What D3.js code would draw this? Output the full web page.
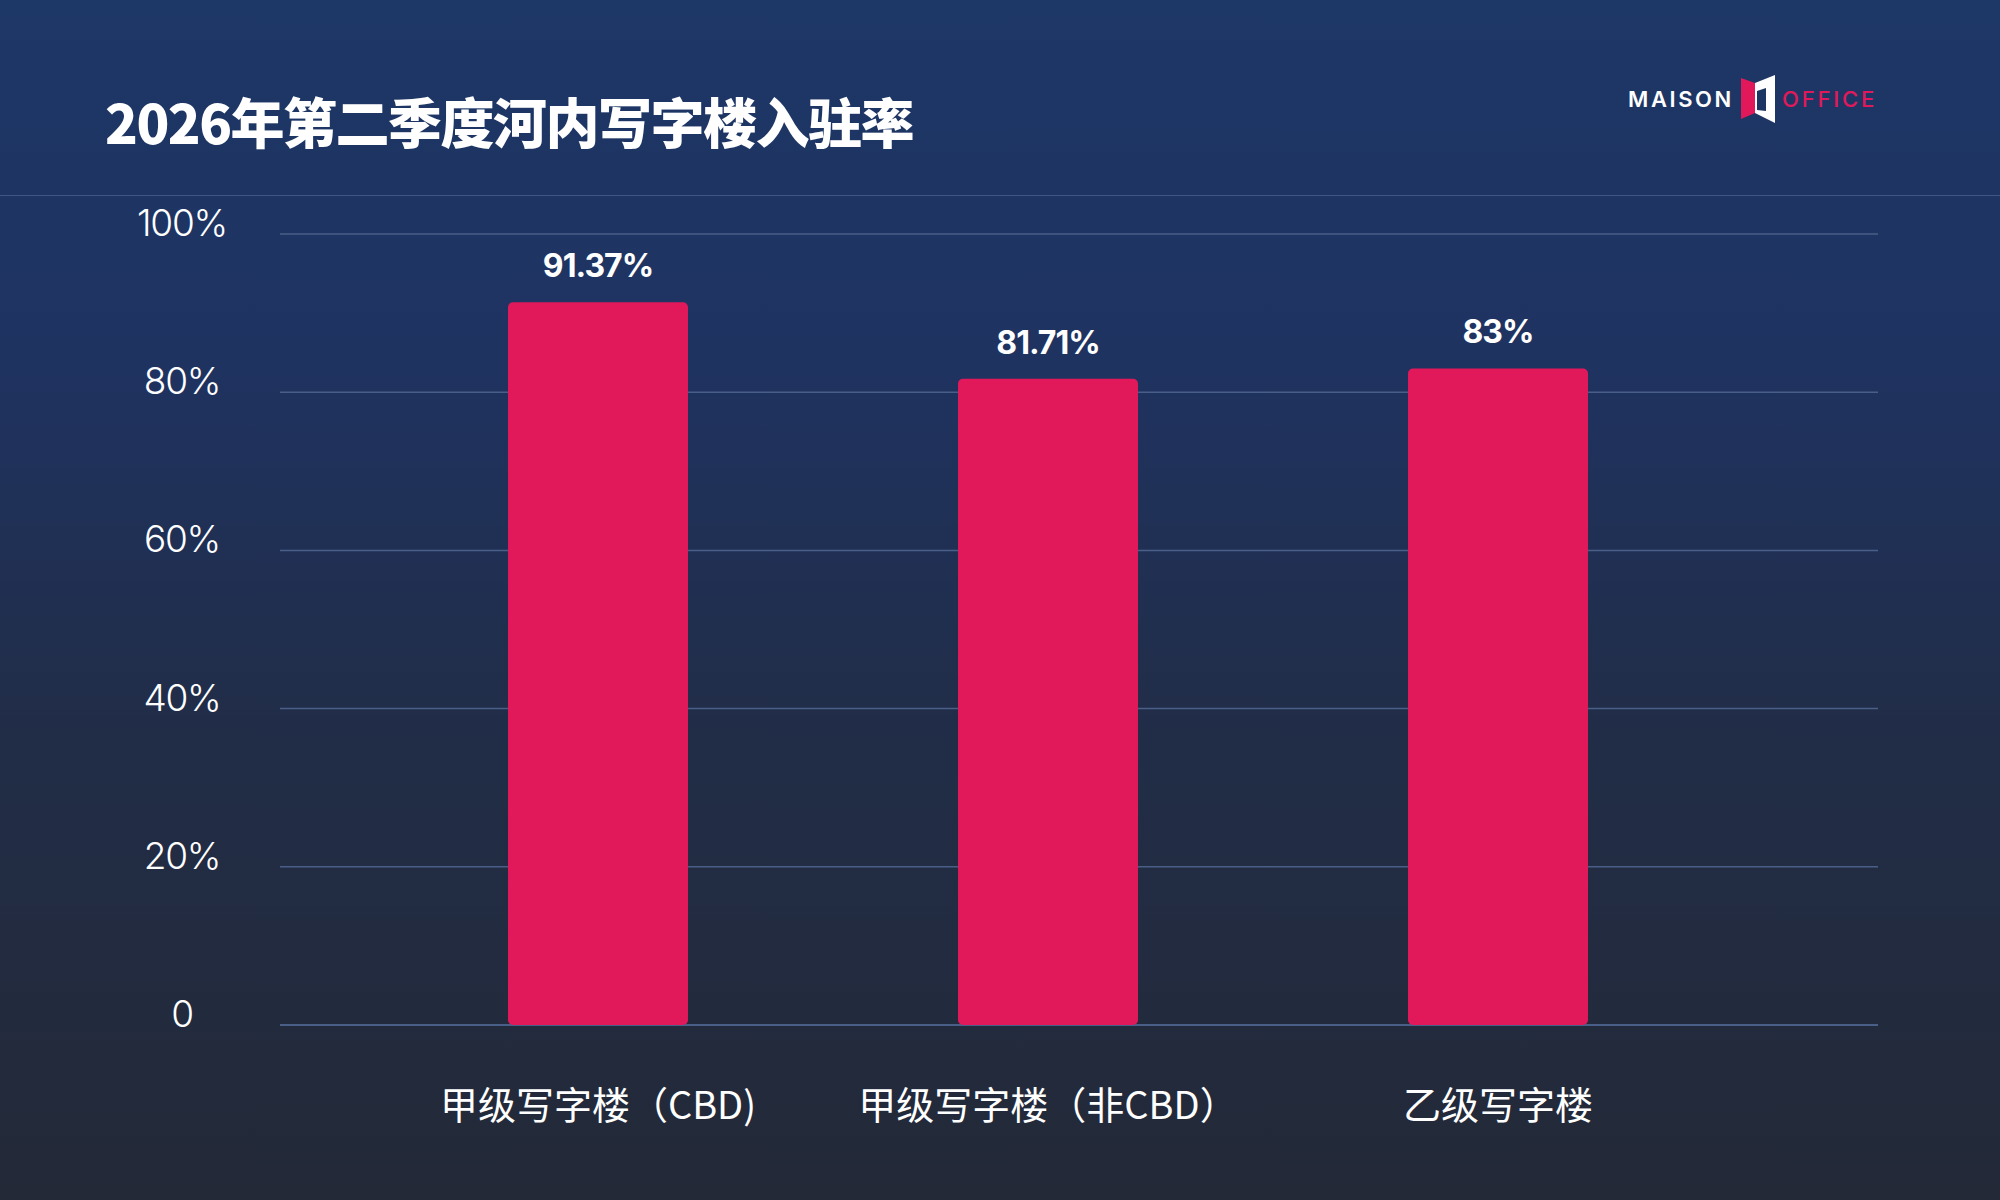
<!DOCTYPE html>
<html>
<head>
<meta charset="utf-8">
<script src="https://cdn.jsdelivr.net/npm/d3@7"></script>
<style>
    html, body { margin: 0; padding: 0; background: #222a38; }
    svg { display: block; }
</style>
</head>
<body>
<div id="chart"></div>
<script>
// Data.
const categories = ['甲级写字楼（CBD)', '甲级写字楼（非CBD）', '乙级写字楼']
const occupancy = [91.37, 81.71, 83]
const valueLabels = ['91.37%', '81.71%', '83%']
const yTicks = [0, 20, 40, 60, 80, 100]
const yTickLabels = ['0', '20%', '40%', '60%', '80%', '100%']
const titleText = '2026年第二季度河内写字楼入驻率'

class OccupancyChart {
    constructor(_config) {
        this.config = {
            parentElement: _config.parentElement,
            containerWidth: _config.containerWidth,
            containerHeight: _config.containerHeight,
            plot: {left: 280, right: 1878, top: 234, bottom: 1025},
            bandRange: [373, 1723],
            barColor: '#e1195b',
            gridColor: '#4a5f87'
        }
        this.initVis()
    }

    initVis() {
        let vis = this
        const c = vis.config

        vis.svg = d3.select(c.parentElement)
            .append('svg')
            .attr('width', c.containerWidth)
            .attr('height', c.containerHeight)

        // Background gradient, navy at the top fading to slate.
        const defs = vis.svg.append('defs')
        const grad = defs.append('linearGradient')
            .attr('id', 'bg')
            .attr('x1', 0).attr('y1', 0).attr('x2', 0).attr('y2', 1)
        grad.append('stop').attr('offset', '0%').attr('stop-color', '#1d3766')
        grad.append('stop').attr('offset', '30%').attr('stop-color', '#1f3361')
        grad.append('stop').attr('offset', '60%').attr('stop-color', '#212d48')
        grad.append('stop').attr('offset', '100%').attr('stop-color', '#232937')

        vis.svg.append('rect')
            .attr('width', c.containerWidth)
            .attr('height', c.containerHeight)
            .attr('fill', 'url(#bg)')

        // header divider
        vis.svg.append('line')
            .attr('x1', 0).attr('x2', c.containerWidth)
            .attr('y1', 195.5).attr('y2', 195.5)
            .attr('stroke', '#3f5582')
            .attr('stroke-width', 1)

        vis.svg.append('text')
            .attr('x', 105)
            .attr('y', 144)
            .attr('fill', '#ffffff')
            .attr('font-family', '"Noto Sans CJK SC", sans-serif')
            .attr('font-weight', 900)
            .attr('font-size', 54)
            .attr('letter-spacing', -1.5)
            .text(titleText)

        vis.drawLogo()

        vis.yScale = d3.scaleLinear()
            .domain([0, 100])
            .range([c.plot.bottom, c.plot.top])

        vis.xScale = d3.scaleBand()
            .domain(categories)
            .range(c.bandRange)
            .paddingInner(0.6)
            .paddingOuter(0.3)

        vis.chart = vis.svg.append('g')

        vis.renderVis()
    }

    drawLogo() {
        let vis = this
        const logo = vis.svg.append('g')

        logo.append('text')
            .attr('x', 1628).attr('y', 106.5)
            .attr('fill', '#ffffff')
            .attr('font-family', 'Inter, sans-serif')
            .attr('font-weight', 600)
            .attr('font-size', 22)
            .attr('letter-spacing', 2.6)
            .text('MAISON')

        logo.append('polygon')
            .attr('points', '1741,78 1755,83 1755,113 1741,119')
            .attr('fill', '#e1195b')
        logo.append('polygon')
            .attr('points', '1755,83 1775,75 1775,123 1755,113')
            .attr('fill', '#ffffff')
        logo.append('polygon')
            .attr('points', '1757,91 1766,88 1766,111 1757,110')
            .attr('fill', '#1d3563')

        logo.append('text')
            .attr('x', 1782).attr('y', 106.5)
            .attr('fill', '#e1195b')
            .attr('font-family', 'Inter, sans-serif')
            .attr('font-weight', 500)
            .attr('font-size', 22)
            .attr('letter-spacing', 2.8)
            .text('OFFICE')
    }

    renderVis() {
        let vis = this
        const c = vis.config
        const data = categories.map((d, i) => ({cat: d, value: occupancy[i], label: valueLabels[i]}))

        // gridlines
        vis.chart.selectAll('.grid')
            .data(yTicks)
            .join('line')
            .attr('class', 'grid')
            .attr('x1', c.plot.left)
            .attr('x2', c.plot.right)
            .attr('y1', d => vis.yScale(d))
            .attr('y2', d => vis.yScale(d))
            .attr('stroke', c.gridColor)
            .attr('stroke-width', d => d === 0 ? 2 : 1.5)

        // y tick labels
        vis.chart.selectAll('.y-label')
            .data(yTicks)
            .join('text')
            .attr('class', 'y-label')
            .attr('x', 182)
            .attr('y', d => vis.yScale(d) + 2)
            .attr('text-anchor', 'middle')
            .attr('fill', '#ffffff')
            .attr('font-family', 'Inter, sans-serif')
            .attr('font-weight', 300)
            .attr('font-size', 37)
            .attr('letter-spacing', -1.2)
            .text((d, i) => yTickLabels[i])

        vis.chart.selectAll('.bar')
            .data(data)
            .join('rect')
            .attr('class', 'bar')
            .attr('x', d => vis.xScale(d.cat))
            .attr('width', vis.xScale.bandwidth())
            .attr('y', d => vis.yScale(d.value))
            .attr('height', d => vis.yScale(0) - vis.yScale(d.value))
            .attr('rx', 5)
            .attr('fill', c.barColor)

        vis.chart.selectAll('.value-label')
            .data(data)
            .join('text')
            .attr('class', 'value-label')
            .attr('x', d => vis.xScale(d.cat) + vis.xScale.bandwidth() / 2)
            .attr('y', d => vis.yScale(d.value) - 25)
            .attr('text-anchor', 'middle')
            .attr('fill', '#ffffff')
            .attr('font-family', 'Inter, sans-serif')
            .attr('font-weight', 700)
            .attr('font-size', 32)
            .attr('letter-spacing', -1)
            .text(d => d.label)

        vis.chart.selectAll('.x-label')
            .data(data)
            .join('text')
            .attr('class', 'x-label')
            .attr('x', d => vis.xScale(d.cat) + vis.xScale.bandwidth() / 2)
            .attr('y', 1119)
            .attr('text-anchor', 'middle')
            .attr('fill', '#ffffff')
            .attr('font-family', '"Noto Sans CJK SC", sans-serif')
            .attr('font-weight', 400)
            .attr('font-size', 38)
            .text(d => d.cat)
    }
}

new OccupancyChart({parentElement: '#chart', containerWidth: 2000, containerHeight: 1200})
</script>
</body>
</html>
